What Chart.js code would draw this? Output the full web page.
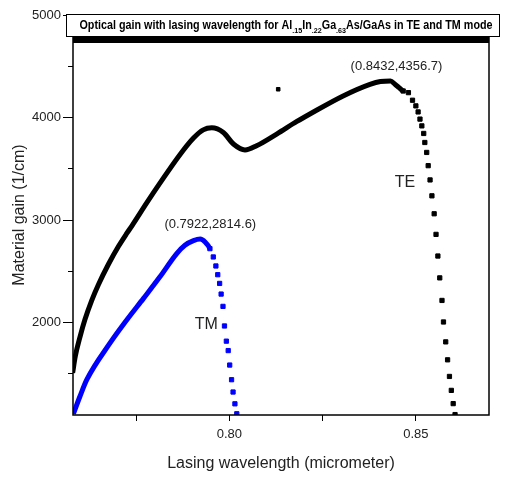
<!DOCTYPE html>
<html>
<head>
<meta charset="utf-8">
<script src="https://cdn.jsdelivr.net/npm/chart.js@4"></script>
<style>
  html, body { margin: 0; padding: 0; background: #fff; }
  #wrap { width: 505px; height: 477px; }
</style>
</head>
<body>
<div id="wrap"><canvas id="gainChart" width="505" height="477"></canvas></div>
<script>
// TE mode (black)
const teLambda = [0.7580, 0.7587, 0.7600, 0.7613, 0.7631, 0.7649, 0.7676, 0.7703, 0.7725, 0.7739,
    0.7779, 0.7814, 0.7868, 0.7904, 0.7930, 0.7953, 0.7984, 0.8011, 0.8042, 0.8073, 0.8127,
    0.8181, 0.8216, 0.8305, 0.8377, 0.8405, 0.8432, 0.8444, 0.8455, 0.8466, 0.8480,
    0.8491, 0.8500, 0.8506, 0.8511, 0.8516, 0.8521, 0.8524, 0.8529, 0.8533, 0.8538,
    0.8543, 0.8549, 0.8554, 0.8559, 0.8564, 0.8570, 0.8574, 0.8580, 0.8585, 0.8590,
    0.8595, 0.8600, 0.8605];
const teGain = [1510, 1670, 1864, 2030, 2215, 2370, 2570, 2745, 2870, 2945,
    3170, 3360, 3640, 3800, 3880, 3900, 3854, 3742, 3684, 3725, 3839,
    3962, 4035, 4211, 4324, 4352, 4357, 4325, 4292, 4259, 4243,
    4169, 4114, 4055, 3985, 3919, 3845, 3757, 3660, 3531, 3392,
    3237, 3062, 2861, 2650, 2437, 2217, 2007, 1813, 1638, 1476,
    1340, 1211, 1104];
// single stray TE point above the curve
const teStrayLambda = [0.8131];
const teStrayGain = [4276];

// TM mode (blue)
const tmLambda = [0.7582, 0.7600, 0.7618, 0.7680, 0.7725, 0.7770, 0.7814, 0.7859,
    0.7881, 0.7904, 0.7922, 0.7935, 0.7948, 0.7957, 0.7964, 0.7969, 0.7974, 0.7978,
    0.7983, 0.7987, 0.7992, 0.7997, 0.8001, 0.8006, 0.8010, 0.8015, 0.8020];
const tmGain = [1110, 1285, 1444, 1800, 2026, 2237, 2447, 2674,
    2755, 2800, 2815, 2786, 2722, 2641, 2553, 2468, 2383, 2279,
    2159, 1968, 1820, 1728, 1587, 1444, 1324, 1209, 1112];

// where the dense (continuous looking) part of each curve ends
const teDenseEnd = 0.8466;
const tmDenseEnd = 0.7948;

// ticks
const xTickValues = [0.775, 0.80, 0.825, 0.85];
const xTickLabels = ['', '0.80', '', '0.85'];
const yTickValues = [1500, 2000, 2500, 3000, 3500, 4000, 4500, 5000];
const yTickLabels = ['', '2000', '', '3000', '', '4000', '', '5000'];

// text labels on the plot
const noteTexts = ['(0.8432,4356.7)', '(0.7922,2814.6)', 'TE', 'TM'];
const noteX = [0.8448, 0.7949, 0.8471, 0.7938];
const noteY = [4500, 2960, 3366, 1978];

const titleParts = [
    ['Optical gain with lasing wavelength for Al', false], ['.15', true],
    ['In', false], ['.22', true], ['Ga', false], ['.63', true],
    ['As/GaAs in TE and TM mode', false]
];

function toPoints(xs, ys) {
    return xs.map((x, i) => ({ x: x, y: ys[i] }));
}

// frame, title box and text notes
const decorPlugin = {
    id: 'decor',
    afterDraw(chart) {
        const ctx = chart.ctx;
        const ca = chart.chartArea;
        const xs = chart.scales.x, ys = chart.scales.y;
        ctx.save();
        // plot frame
        ctx.strokeStyle = '#000';
        ctx.lineWidth = 1.5;
        ctx.strokeRect(ca.left, ca.top, ca.right - ca.left, ca.bottom - ca.top);

        // notes
        ctx.fillStyle = '#222';
        ctx.textAlign = 'center';
        ctx.textBaseline = 'middle';
        noteTexts.forEach((t, i) => {
            ctx.font = (t.length > 3 ? '13px' : '16px') + ' "Liberation Sans", Arial, sans-serif';
            ctx.fillText(t, xs.getPixelForValue(noteX[i]), ys.getPixelForValue(noteY[i]));
        });

        // title box with dark band under it
        const bx = ca.left - 7, by = ca.top - 1, bw = ca.right - ca.left + 18, bh = 23;
        ctx.fillStyle = '#000';
        ctx.fillRect(ca.left, by + bh, ca.right - ca.left, 6);
        ctx.fillStyle = '#fff';
        ctx.fillRect(bx, by, bw, bh);
        ctx.lineWidth = 1;
        ctx.strokeStyle = '#000';
        ctx.strokeRect(bx + 0.5, by + 0.5, bw - 1, bh - 1);

        // condensed bold title squeezed to the reference width
        const bigFont = 'bold 12px "Liberation Sans", Arial, sans-serif';
        const subFont = 'bold 8px "Liberation Sans", Arial, sans-serif';
        let total = 0;
        titleParts.forEach(p => {
            ctx.font = p[1] ? subFont : bigFont;
            total += ctx.measureText(p[0]).width;
        });
        const targetW = 413;
        const sx = targetW / total;
        const cy = by + bh / 2;
        ctx.translate(bx + bw / 2 + 3 - targetW / 2, cy);
        ctx.scale(sx, 1);
        let cx = 0;
        ctx.textAlign = 'left';
        ctx.fillStyle = '#000';
        titleParts.forEach(p => {
            ctx.font = p[1] ? subFont : bigFont;
            ctx.fillText(p[0], cx, p[1] ? 5 : 0);
            cx += ctx.measureText(p[0]).width;
        });
        ctx.restore();
    }
};

const ctx = document.getElementById('gainChart').getContext('2d');
new Chart(ctx, {
    type: 'line',
    data: {
        datasets: [
            {
                label: 'TE',
                data: toPoints(teLambda, teGain),
                borderColor: '#000',
                backgroundColor: '#000',
                borderWidth: 5,
                cubicInterpolationMode: 'monotone',
                pointStyle: 'rect',
                pointRadius: c => (c.raw && c.raw.x < teDenseEnd) ? 0 : 3,
                pointBorderWidth: 1,
                segment: {
                    borderColor: c => c.p0.parsed.x < teDenseEnd ? '#000' : 'rgba(0,0,0,0)'
                }
            },
            {
                label: 'TE stray',
                data: toPoints(teStrayLambda, teStrayGain),
                showLine: false,
                borderColor: '#000',
                backgroundColor: '#000',
                pointStyle: 'rect',
                pointRadius: 2.5,
                pointBorderWidth: 1
            },
            {
                label: 'TM',
                data: toPoints(tmLambda, tmGain),
                borderColor: '#0000ff',
                backgroundColor: '#0000ff',
                borderWidth: 5,
                cubicInterpolationMode: 'monotone',
                pointStyle: 'rect',
                pointRadius: c => (c.raw && c.raw.x < tmDenseEnd) ? 0 : 3,
                pointBorderWidth: 1,
                segment: {
                    borderColor: c => c.p0.parsed.x < tmDenseEnd ? '#0000ff' : 'rgba(0,0,0,0)'
                }
            }
        ]
    },
    options: {
        responsive: false,
        animation: false,
        layout: { padding: { top: 15, right: 16, left: 0, bottom: 0 } },
        plugins: {
            legend: { display: false },
            tooltip: { enabled: false }
        },
        scales: {
            x: {
                type: 'linear',
                min: 0.7581,
                max: 0.8696,
                afterFit: s => { s.height = 62; },
                afterBuildTicks: s => { s.ticks = xTickValues.map(v => ({ value: v })); },
                border: { display: false },
                grid: { drawOnChartArea: false, drawTicks: true, tickLength: 6, color: '#000', lineWidth: 1 },
                ticks: {
                    autoSkip: false,
                    maxRotation: 0,
                    padding: 6,
                    color: '#222',
                    font: { family: '"Liberation Sans", Arial, sans-serif', size: 13 },
                    callback: (v, i) => xTickLabels[i]
                },
                title: {
                    display: true,
                    text: 'Lasing wavelength (micrometer)',
                    color: '#222',
                    padding: { top: 0, bottom: 4 },
                    font: { family: '"Liberation Sans", Arial, sans-serif', size: 16 }
                }
            },
            y: {
                type: 'linear',
                min: 1100,
                max: 5000,
                afterFit: s => { s.width = 73; },
                afterBuildTicks: s => { s.ticks = yTickValues.map(v => ({ value: v })); },
                border: { display: false },
                grid: {
                    drawOnChartArea: false, drawTicks: true, tickLength: 10, color: '#000', lineWidth: 1,
                    tickBorderDash: c => yTickLabels[c.index] ? [] : [0, 5, 10, 0]
                },
                ticks: {
                    autoSkip: false,
                    padding: 2,
                    color: '#222',
                    font: { family: '"Liberation Sans", Arial, sans-serif', size: 13 },
                    callback: (v, i) => yTickLabels[i]
                },
                title: {
                    display: true,
                    text: 'Material gain (1/cm)',
                    color: '#222',
                    padding: { top: 10, bottom: 0 },
                    font: { family: '"Liberation Sans", Arial, sans-serif', size: 16 }
                }
            }
        }
    },
    plugins: [decorPlugin]
});
</script>
</body>
</html>
